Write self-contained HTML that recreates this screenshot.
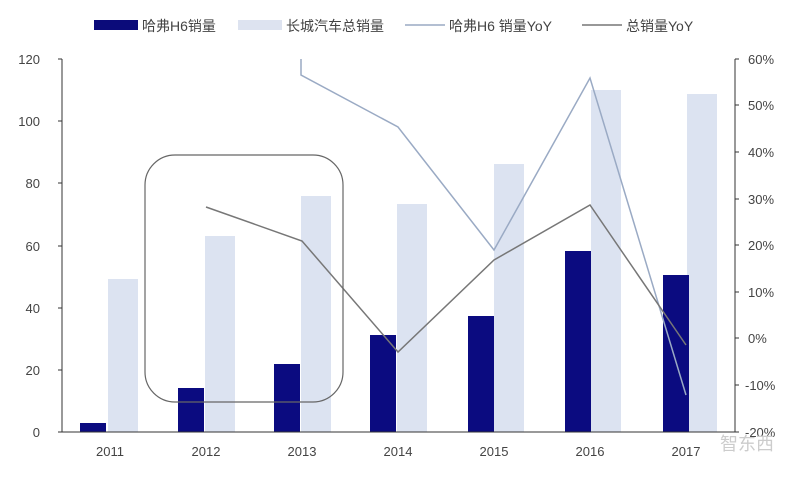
<!DOCTYPE html>
<html><head><meta charset="utf-8"><style>
body{margin:0;background:#fff;}
text{font-family:"Liberation Sans","Noto Sans CJK SC",sans-serif;fill:#444;}
</style></head><body>
<svg width="800" height="472" viewBox="0 0 800 472" xmlns="http://www.w3.org/2000/svg">
<rect width="800" height="472" fill="#fff"/>
<!-- legend -->
<rect x="94" y="20" width="44" height="10" fill="#0b0b7a"/>
<text x="142" y="31" font-size="14">哈弗H6销量</text>
<rect x="238" y="20" width="44" height="10" fill="#dde3f0"/>
<text x="286" y="31" font-size="14">长城汽车总销量</text>
<line x1="405" y1="25" x2="445" y2="25" stroke="#9aaac4" stroke-width="1.5"/>
<text x="449" y="31" font-size="14">哈弗H6 销量YoY</text>
<line x1="582" y1="25" x2="622" y2="25" stroke="#777" stroke-width="1.5"/>
<text x="626" y="31" font-size="14">总销量YoY</text>
<!-- light bars -->
<g fill="#dce3f1">
<rect x="108" y="279" width="30" height="153"/>
<rect x="205" y="236" width="30" height="196"/>
<rect x="301" y="196" width="30" height="236"/>
<rect x="397" y="204" width="30" height="228"/>
<rect x="494" y="164" width="30" height="268"/>
<rect x="591" y="90" width="30" height="342"/>
<rect x="687" y="94" width="30" height="338"/>
</g>
<g fill="#0b0b80">
<rect x="80" y="423" width="26" height="9"/>
<rect x="178" y="388" width="26" height="44"/>
<rect x="274" y="364" width="26" height="68"/>
<rect x="370" y="335" width="26" height="97"/>
<rect x="468" y="316" width="26" height="116"/>
<rect x="565" y="251" width="26" height="181"/>
<rect x="663" y="275" width="26" height="157"/>
</g>
<!-- lines -->
<polyline points="301,59 301,75 398,127 494,250 590,78 686,395" fill="none" stroke="#9aaac4" stroke-width="1.5"/>
<polyline points="206,207 302,241 398,352 494,260 590,205 686,345" fill="none" stroke="#777" stroke-width="1.5"/>
<!-- rounded rect -->
<rect x="145" y="155" width="198" height="247" rx="30" fill="none" stroke="#666" stroke-width="1.2"/>
<!-- axes -->
<line x1="62" y1="59" x2="62" y2="432" stroke="#333"/>
<line x1="735" y1="59" x2="735" y2="432" stroke="#333"/>
<line x1="62" y1="432" x2="735" y2="432" stroke="#333"/>
<g stroke="#333">
<line x1="58" y1="59" x2="62" y2="59"/><line x1="58" y1="121" x2="62" y2="121"/><line x1="58" y1="183" x2="62" y2="183"/><line x1="58" y1="246" x2="62" y2="246"/><line x1="58" y1="308" x2="62" y2="308"/><line x1="58" y1="370" x2="62" y2="370"/><line x1="58" y1="432" x2="62" y2="432"/>
<line x1="735" y1="59" x2="739" y2="59"/><line x1="735" y1="105" x2="739" y2="105"/><line x1="735" y1="152" x2="739" y2="152"/><line x1="735" y1="199" x2="739" y2="199"/><line x1="735" y1="245" x2="739" y2="245"/><line x1="735" y1="292" x2="739" y2="292"/><line x1="735" y1="338" x2="739" y2="338"/><line x1="735" y1="385" x2="739" y2="385"/><line x1="735" y1="432" x2="739" y2="432"/>
</g>
<g font-size="13" text-anchor="end">
<text x="40" y="64">120</text><text x="40" y="126">100</text><text x="40" y="188">80</text><text x="40" y="251">60</text><text x="40" y="313">40</text><text x="40" y="375">20</text><text x="40" y="437">0</text>
</g>
<g font-size="13">
<text x="748" y="64">60%</text><text x="748" y="110">50%</text><text x="748" y="157">40%</text><text x="748" y="204">30%</text><text x="748" y="250">20%</text><text x="748" y="297">10%</text><text x="748" y="343">0%</text><text x="745" y="390">-10%</text><text x="745" y="437">-20%</text>
</g>
<g font-size="13" text-anchor="middle">
<text x="110" y="456">2011</text><text x="206" y="456">2012</text><text x="302" y="456">2013</text><text x="398" y="456">2014</text><text x="494" y="456">2015</text><text x="590" y="456">2016</text><text x="686" y="456">2017</text>
</g>
<text x="720" y="450" font-size="18" fill="#ccc" style="fill:#ccc">智东西</text>
</svg>
</body></html>
